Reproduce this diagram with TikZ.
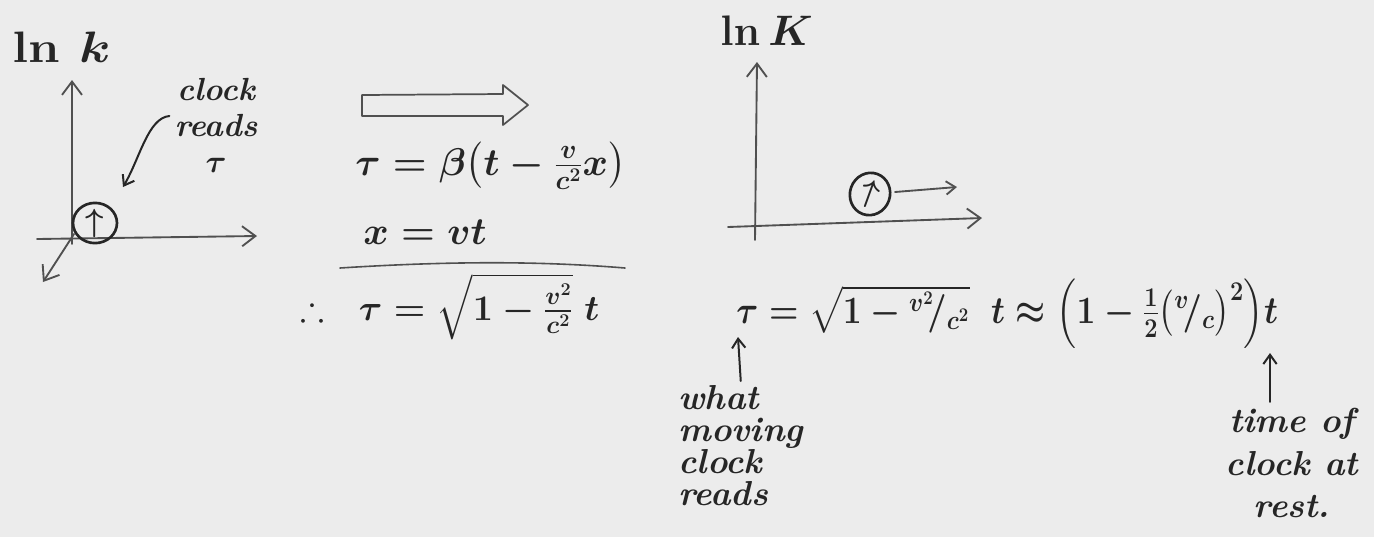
\documentclass[tikz,border=0pt]{standalone}
\usepackage{fix-cm}
\usepackage{amsmath,amssymb}
\usepackage{graphicx}
\usetikzlibrary{arrows.meta,shapes.geometric}
\definecolor{bgc}{RGB}{236,236,236}
\definecolor{ink}{RGB}{38,38,38}
\definecolor{axisc}{RGB}{80,80,80}
\begin{document}
\begin{tikzpicture}[x=0.75pt,y=-0.75pt,
  axisline/.style={draw=axisc,line width=1.4pt,line cap=round,line join=round},
  inkline/.style={draw=ink,line width=1.5pt,line cap=round,line join=round},
  tipB/.style={-{Straight Barb[length=10pt,width=15pt]}},
  tipS/.style={-{Straight Barb[length=7pt,width=10pt]}},
  lbl/.style={text=ink,inner sep=0pt},
  hand/.style={lbl,font=\fontsize{24}{27}\selectfont\bfseries\itshape\boldmath,align=center},
  eqn/.style={lbl,font=\fontsize{29}{36}\selectfont\boldmath,anchor=base west},
  clockL/.style={ellipse,draw=ink,line width=2pt,inner sep=0pt,text=ink,font=\fontsize{24}{24}\selectfont\boldmath}
]
\fill[bgc] (0,0) rectangle (1374,537);
\useasboundingbox (0,0) rectangle (1374,537);

% ---------- left sketch ----------
\node[lbl,anchor=base west,font=\fontsize{33}{33}\selectfont\boldmath] (lnk1) at (12,62) {\scalebox{1.15}[1]{$\ln\,k$}};
\coordinate (Y1s) at (72,244);
\coordinate (Y1e) at (72,80);
\coordinate (X1s) at (37,239);
\coordinate (X1e) at (257,236);
\coordinate (D1s) at (74,234);
\coordinate (D1e) at (43,282);
\draw[axisline,tipB] (Y1s) -- (Y1e);
\draw[axisline,tipB] (X1s) -- (X1e);
\draw[axisline,tipB] (D1s) -- (D1e);
\node[clockL,minimum width=33pt,minimum height=27pt] (k1) at (95,223) {$\uparrow$};
\node[hand] (lblA) at (216,125) {clock\\reads\\$\tau$};
\coordinate (c1e) at (123,187);
\draw[inkline,tipS] ([shift={(-5,-9)}]lblA.west) .. controls (148,118) and (140,158) .. (c1e);

% ---------- middle ----------
\draw[draw=axisc,line width=1.3pt,line join=round] (362,95) -- (503,94) -- (503,85) -- (528,105) -- (503,125) -- (503,116) -- (362,116) -- cycle;
\node[eqn] (eq1) at (355,175) {$\tau=\beta\bigl(t-\tfrac{v}{c^{2}}x\bigr)$};
\node[eqn] (eq2) at (363,244) {$x=vt$};
\coordinate (r1) at (340,268);
\coordinate (r2) at (625,268);
\draw[axisline,line width=1.2pt] (r1) .. controls (450,261) and (540,261) .. (r2);
\node[eqn,font=\fontsize{27}{34}\selectfont\boldmath] (eq3) at (300,320) {$\therefore\;\;\tau=\sqrt{1-\tfrac{v^{2}}{c^{2}}}\;t$};

% ---------- right sketch ----------
\node[lbl,anchor=base west,font=\fontsize{32}{32}\selectfont\boldmath] (lnk2) at (720,45) {$\ln K$};
\coordinate (Y2s) at (755,240);
\coordinate (Y2e) at (757,62);
\coordinate (X2s) at (728,227);
\coordinate (X2e) at (982,218);
\draw[axisline,tipB] (Y2s) -- (Y2e);
\draw[axisline,tipB] (X2s) -- (X2e);
\node[clockL,minimum width=30pt,minimum height=32pt,rotate=-20] (k2) at (870,194) {$\uparrow$};
\coordinate (m2) at (957,187);
\draw[axisline,tipS] (895,192) -- (m2);

\node[eqn] (eq4) at (736,323)
  {\scalebox{0.87}[1]{$\tau=\sqrt{1-{}^{v^{2}}\!/_{c^{2}}}\;\;t\approx\Bigl(1-\tfrac{1}{2}\bigl({}^{v}\!/_{c}\bigr)^{2}\Bigr)t$}};

\node[hand,font=\fontsize{26}{24}\selectfont\bfseries\itshape,align=left,anchor=north west] (lblW) at (678,385) {what\\moving\\clock\\reads};
\coordinate (tw) at (738,337);
\draw[inkline,tipS] ([yshift=3pt]lblW.north) -- (tw);

\node[hand,font=\fontsize{26}{32}\selectfont\bfseries\itshape] (lblR) at (1292,463) {time of\\clock at\\rest.};
\coordinate (tr) at (1270,353);
\draw[inkline,tipS] ([shift={(-22,-6)}]lblR.north) -- (tr);
\end{tikzpicture}
\end{document}
